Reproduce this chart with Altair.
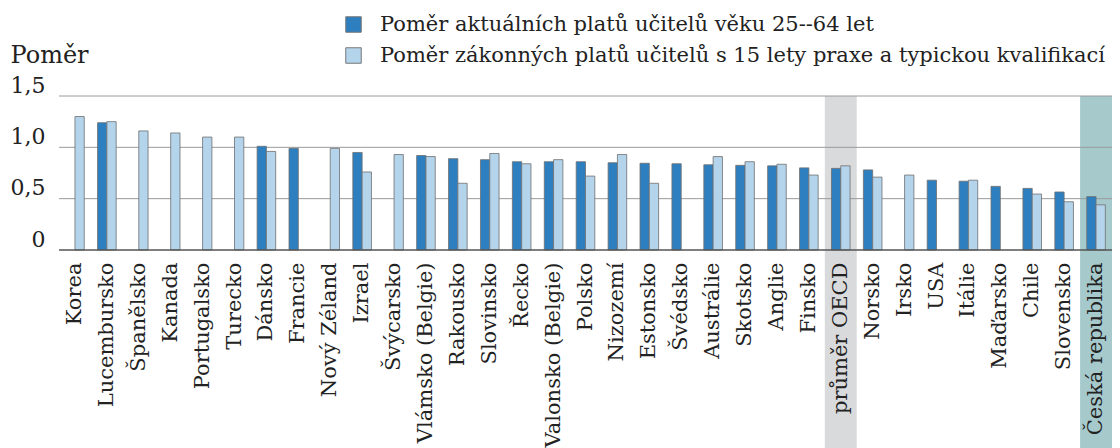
import altair as alt
import pandas as pd

categories = ["Korea", "Lucembursko", "Španělsko", "Kanada", "Portugalsko", "Turecko",
              "Dánsko", "Francie", "Nový Zéland", "Izrael", "Švýcarsko", "Vlámsko (Belgie)",
              "Rakousko", "Slovinsko", "Řecko", "Valonsko (Belgie)", "Polsko", "Nizozemí",
              "Estonsko", "Švédsko", "Austrálie", "Skotsko", "Anglie", "Finsko",
              "průměr OECD", "Norsko", "Irsko", "USA", "Itálie", "Maďarsko", "Chile",
              "Slovensko", "Česká republika"]

actual = [None, 1.24, None, None, None, None,
          1.01, 0.99, None, 0.95, None, 0.92,
          0.89, 0.88, 0.86, 0.86, 0.86, 0.85,
          0.845, 0.84, 0.83, 0.825, 0.82, 0.80,
          0.795, 0.78, None, 0.68, 0.67, 0.62, 0.60,
          0.565, 0.52]

statutory = [1.30, 1.25, 1.16, 1.14, 1.10, 1.10,
             0.96, None, 0.99, 0.76, 0.93, 0.91,
             0.65, 0.94, 0.84, 0.88, 0.72, 0.93,
             0.65, None, 0.91, 0.86, 0.835, 0.73,
             0.82, 0.71, 0.73, None, 0.68, None, 0.545,
             0.47, 0.44]

series_names = ["Poměr aktuálních platů učitelů věku 25--64 let",
                "Poměr zákonných platů učitelů s 15 lety praxe a typickou kvalifikací"]
series_colors = ["#2e7fbf", "#b4d4ec"]

grid_values = [0.5, 1.0, 1.5]

rows = []
for c, a, s in zip(categories, actual, statutory):
    if a is not None:
        rows.append({"kategorie": c, "ukazatel": series_names[0], "hodnota": a})
    if s is not None:
        rows.append({"kategorie": c, "ukazatel": series_names[1], "hodnota": s})
bars_df = pd.DataFrame(rows)

LEFT = 51
W = 1053
H = 154
TOP = 88
BOTTOM = 198

xscale = alt.Scale(domain=categories, paddingInner=0, paddingOuter=0)
yscale = alt.Scale(domain=[0, 1.5], nice=False)

x_enc = alt.X("kategorie:N", scale=xscale, sort=None,
              axis=alt.Axis(title=None, labelAngle=-90, labelFontSize=21, labelPadding=12,
                            labelColor="#222", domain=False, ticks=False, grid=False,
                            zindex=1, labelOverlap=False, labelLimit=400))

band_oecd = alt.Chart(pd.DataFrame({"kategorie": ["průměr OECD"]})).mark_rect(
    fill="#d9dadc").encode(x=x_enc, y=alt.value(0), y2=alt.value(H + BOTTOM))
band_cz = alt.Chart(pd.DataFrame({"kategorie": ["Česká republika"]})).mark_rect(
    fill="#a6c9cc").encode(x=alt.X("kategorie:N", scale=xscale, sort=None),
                           y=alt.value(0), y2=alt.value(H + BOTTOM))

grid = alt.Chart(pd.DataFrame({"v": grid_values})).mark_rule(
    color="#9a9a9a", strokeWidth=1).encode(
    y=alt.Y("v:Q", scale=yscale,
            axis=alt.Axis(values=[0, 0.5, 1.0, 1.5], grid=False, domain=False, ticks=False,
                          labelExpr="datum.value == 0 ? '0' : replace(format(datum.value, '.1f'), '.', ',')",
                          labelFontSize=22, labelColor="#222", labelPadding=14,
                          labelBaseline="alphabetic", labelOffset=-4,
                          title="Poměr", titleAngle=0, titleAlign="left",
                          titleBaseline="alphabetic", titleX=-49, titleY=-34,
                          titleFontSize=24, titleFontWeight="normal", titleColor="#222")),
    x=alt.value(0), x2=alt.value(W))

bars = alt.Chart(bars_df).mark_bar(stroke="#6f6f6f", strokeWidth=1, strokeOpacity=0.8).encode(
    x=alt.X("kategorie:N", scale=xscale, sort=None),
    xOffset=alt.XOffset("ukazatel:N", sort=series_names,
                        scale=alt.Scale(domain=series_names, paddingInner=0, paddingOuter=0.715)),
    y=alt.Y("hodnota:Q", scale=yscale),
    color=alt.Color("ukazatel:N", sort=series_names,
                    scale=alt.Scale(domain=series_names, range=series_colors),
                    legend=alt.Legend(title=None, orient="none", legendX=284, legendY=-82,
                                      symbolType="square", symbolSize=240,
                                      symbolStrokeColor="#777", symbolStrokeWidth=1,
                                      labelFontSize=21, labelColor="#222", labelOffset=16,
                                      rowPadding=9, padding=0, labelLimit=900)),
)

baseline = alt.Chart(pd.DataFrame({"v": [0]})).mark_rule(color="#555", strokeWidth=1.3).encode(
    y=alt.Y("v:Q", scale=yscale), x=alt.value(0), x2=alt.value(W))

chart = alt.layer(band_oecd, band_cz, grid, bars, baseline).properties(
    width=W, height=H,
    autosize=alt.AutoSizeParams(type="none"),
    padding={"left": LEFT, "top": TOP, "right": 0, "bottom": BOTTOM},
).configure(font="DejaVu Serif").configure_view(stroke=None)

chart.save("out.html", embed_options={"renderer": "svg", "actions": False})
